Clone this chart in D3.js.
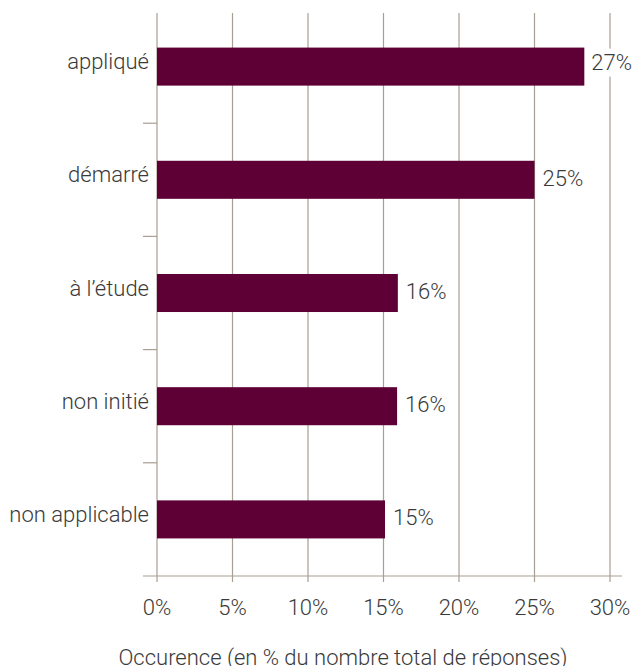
<!DOCTYPE html>
<html>
<head>
<meta charset="utf-8">
<script src="https://cdn.jsdelivr.net/npm/d3@7"></script>
<style>
  body { margin: 0; background: #fff; }
  text { font-family: Roboto, "Noto Sans", sans-serif; font-weight: 300; fill: #3a3a3a; font-size: 22px; }
</style>
</head>
<body>
<div id="chart"></div>
<script>
// Data
const categories = ["appliqué", "démarré", "à l’étude", "non initié", "non applicable"];
const values = [28.3, 25.0, 15.95, 15.9, 15.1];
const valueLabels = ["27%", "25%", "16%", "16%", "15%"];
const xTicks = [0, 5, 10, 15, 20, 25, 30];
const axisTitle = "Occurence (en % du nombre total de réponses)";

const width = 634;
const height = 666;
const barColor = "#5e0035";
const gridColor = "#a89e92";

const svg = d3
  .select("#chart")
  .append("svg")
  .attr("width", width)
  .attr("height", height);

const x = d3.scaleLinear().domain([0, 30]).range([157, 610]);

const y = d3
  .scaleBand()
  .domain(categories)
  .range([10, 576])
  .paddingInner(0.664)
  .paddingOuter(0.332);

const data = categories.map((c, i) => ({ cat: c, value: values[i], label: valueLabels[i] }));
const mid = (d) => y(d.cat) + y.bandwidth() / 2;

// vertical gridlines (they run past the axis as tick marks)
svg
  .append("g")
  .selectAll("line")
  .data(xTicks)
  .enter()
  .append("line")
  .attr("x1", (d) => x(d))
  .attr("x2", (d) => x(d))
  .attr("y1", 13)
  .attr("y2", 582)
  .attr("stroke", gridColor)
  .attr("stroke-width", 1.2);

// bottom axis line
svg
  .append("line")
  .attr("x1", 143)
  .attr("x2", 622)
  .attr("y1", 576)
  .attr("y2", 576)
  .attr("stroke", gridColor)
  .attr("stroke-width", 1.2);

// category separators on the left
const gap = (y.step() - y.bandwidth()) / 2;
svg
  .append("g")
  .selectAll("line")
  .data(categories.slice(1))
  .enter()
  .append("line")
  .attr("x1", 143)
  .attr("x2", x(0))
  .attr("y1", (d) => y(d) - gap)
  .attr("y2", (d) => y(d) - gap)
  .attr("stroke", gridColor)
  .attr("stroke-width", 1.2);

// x tick labels
svg
  .append("g")
  .selectAll("text")
  .data(xTicks)
  .enter()
  .append("text")
  .attr("x", (d) => x(d))
  .attr("y", 615)
  .attr("text-anchor", "middle")
  .text((d) => d + "%");

// category labels
svg
  .append("g")
  .selectAll("text")
  .data(data)
  .enter()
  .append("text")
  .attr("x", 149)
  .attr("y", (d) => mid(d) + 2.5)
  .attr("text-anchor", "end")
  .text((d) => d.cat);

// bars
svg
  .append("g")
  .selectAll("rect")
  .data(data)
  .enter()
  .append("rect")
  .attr("x", x(0))
  .attr("y", (d) => y(d.cat))
  .attr("width", (d) => x(d.value) - x(0))
  .attr("height", y.bandwidth())
  .attr("fill", barColor);

// value labels, pushed back inside the frame when they would overflow
const labels = svg.append("g");
data.forEach((d) => {
  const g = labels.append("g");
  const t = g
    .append("text")
    .attr("x", x(d.value) + 8)
    .attr("y", mid(d) + 6)
    .text(d.label);
  const w = t.node().getComputedTextLength();
  if (x(d.value) + 8 + w > width - 2) {
    t.attr("x", width - 2 - w).attr("y", mid(d) + 3);
    g.insert("rect", "text")
      .attr("x", width - 4 - w)
      .attr("y", mid(d) - 18)
      .attr("width", w + 4)
      .attr("height", 28)
      .attr("fill", "#fff");
  }
});

// axis title
svg
  .append("text")
  .attr("x", 343)
  .attr("y", 665)
  .attr("text-anchor", "middle")
  .text(axisTitle);
</script>
</body>
</html>
